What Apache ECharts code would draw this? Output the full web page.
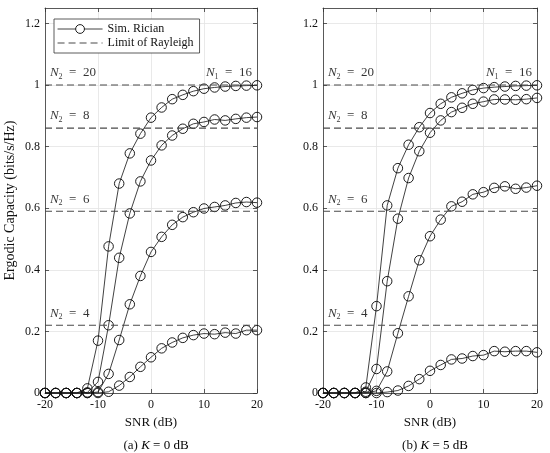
<!DOCTYPE html>
<html>
<head>
<meta charset="utf-8">
<script src="https://cdn.jsdelivr.net/npm/echarts@6/dist/echarts.min.js"></script>
<style>
html,body{margin:0;padding:0;background:#fff;}
#main{width:550px;height:453px;}
</style>
</head>
<body>
<div id="main"></div>
<script>
var serif = '"Liberation Serif", "DejaVu Serif", serif';

// SNR (dB) sample points
var snr = [-20,-18,-16,-14,-12,-10,-8,-6,-4,-2,0,2,4,6,8,10,12,14,16,18,20];

// (a) K = 0 dB
var k0_n20 = [0,0,0,0,0.015,0.17,0.476,0.68,0.778,0.842,0.894,0.927,0.954,0.968,0.98,0.988,0.992,0.995,0.997,0.998,0.999];
var k0_n8  = [0,0,0,0,0.002,0.036,0.22,0.439,0.583,0.687,0.755,0.804,0.836,0.858,0.874,0.88,0.888,0.885,0.89,0.894,0.896];
var k0_n6  = [0,0,0,0,0,0.003,0.062,0.172,0.288,0.38,0.458,0.507,0.546,0.571,0.587,0.599,0.604,0.609,0.617,0.62,0.618];
var k0_n4  = [0,0,0,0,0,0,0.004,0.024,0.052,0.085,0.116,0.145,0.164,0.179,0.188,0.193,0.191,0.196,0.193,0.204,0.204];

// (b) K = 5 dB
var k5_n20 = [0,0,0,0,0.018,0.282,0.609,0.73,0.806,0.863,0.909,0.939,0.96,0.973,0.984,0.99,0.993,0.995,0.997,0.998,0.999];
var k5_n8  = [0,0,0,0,0.004,0.078,0.363,0.566,0.698,0.785,0.845,0.885,0.912,0.926,0.939,0.946,0.953,0.953,0.952,0.954,0.958];
var k5_n6  = [0,0,0,0,0,0.007,0.07,0.194,0.314,0.431,0.509,0.563,0.606,0.621,0.645,0.652,0.666,0.671,0.663,0.667,0.673];
var k5_n4  = [0,0,0,0,0,0,0.003,0.008,0.023,0.045,0.072,0.091,0.109,0.112,0.12,0.123,0.136,0.134,0.136,0.136,0.132];

// Rayleigh limits and their N2 labels
var limits = [1, 0.86, 0.59, 0.22];
var n2 = [20, 8, 6, 4];
var n1 = 16;

var xTicks = [-20, -10, 0, 10, 20];

var myChart = echarts.init(document.getElementById('main'));

var rich = {
	i: {fontFamily: serif, fontStyle: 'italic', fontSize: 13, color: '#000', lineHeight: 15},
	s: {fontFamily: serif, fontSize: 8, color: '#000', verticalAlign: 'bottom', lineHeight: 9},
	r: {fontFamily: serif, fontSize: 13, color: '#000', lineHeight: 15}
};

function grid(left, width) {
	return {left: left, top: 8, width: width, height: 385, containLabel: false};
}

function xAxes(g) {
	return [{
		gridIndex: g, type: 'value', min: xTicks[0], max: xTicks[xTicks.length - 1], interval: 10,
		name: 'SNR (dB)', nameLocation: 'middle', nameGap: 23,
		nameTextStyle: {fontFamily: serif, fontSize: 13, color: '#111'},
		axisLine: {show: true, onZero: false, lineStyle: {color: '#333', width: 0.8}},
		axisTick: {show: true, inside: true, length: 4, lineStyle: {color: '#333', width: 0.8}},
		axisLabel: {fontFamily: serif, fontSize: 12, color: '#111', margin: 6,
			formatter: function (v) { return v < 0 ? '-' + Math.abs(v) : '' + v; }},
		splitLine: {show: true, lineStyle: {color: '#e3e3e3', width: 0.8}}
	}, {
		gridIndex: g, type: 'value', position: 'top', min: xTicks[0], max: xTicks[xTicks.length - 1], interval: 10,
		axisLine: {show: true, onZero: false, lineStyle: {color: '#333', width: 0.8}},
		axisTick: {show: true, inside: true, length: 4, lineStyle: {color: '#333', width: 0.8}},
		axisLabel: {show: false},
		splitLine: {show: false}
	}];
}

function yAxes(g, name) {
	return [{
		gridIndex: g, type: 'value', min: 0, max: 1.25, interval: 0.2,
		name: name, nameLocation: 'middle', nameGap: 28,
		nameTextStyle: {fontFamily: serif, fontSize: 14, color: '#111'},
		axisLine: {show: true, onZero: false, lineStyle: {color: '#333', width: 0.8}},
		axisTick: {show: true, inside: true, length: 4, lineStyle: {color: '#333', width: 0.8}},
		axisLabel: {fontFamily: serif, fontSize: 12, color: '#111', margin: 5, showMaxLabel: false},
		splitLine: {show: true, lineStyle: {color: '#e3e3e3', width: 0.8}}
	}, {
		gridIndex: g, type: 'value', position: 'right', min: 0, max: 1.25, interval: 0.2,
		axisLine: {show: true, onZero: false, lineStyle: {color: '#333', width: 0.8}},
		axisTick: {show: true, inside: true, length: 4, lineStyle: {color: '#333', width: 0.8}},
		axisLabel: {show: false},
		splitLine: {show: false}
	}];
}

function simSeries(vals, g) {
	return {
		name: 'Sim. Rician', type: 'line', xAxisIndex: g * 2, yAxisIndex: g * 2,
		data: snr.map(function (x, i) { return [x, vals[i]]; }),
		symbol: 'circle', symbolSize: 9.5, showSymbol: true,
		lineStyle: {color: '#111', width: 0.8},
		itemStyle: {color: 'rgba(255,255,255,0)', borderColor: '#111', borderWidth: 0.95},
		emphasis: {disabled: true},
		z: 3
	};
}

function limitSeries(l, g) {
	return {
		name: 'Limit of Rayleigh', type: 'line', xAxisIndex: g * 2, yAxisIndex: g * 2,
		data: [[xTicks[0], l], [xTicks[xTicks.length - 1], l]],
		symbol: 'none',
		lineStyle: {color: '#4a4a4a', width: 1.1, type: [7, 4]},
		itemStyle: {color: '#4a4a4a'},
		z: 4
	};
}

function labelSeries(g) {
	var data = limits.map(function (l, i) {
		return {
			value: [xTicks[0], l],
			label: {show: true, position: [5, -12], align: 'left', verticalAlign: 'middle',
				formatter: '{i|N}{s|2}{r|  =  ' + n2[i] + '}', rich: rich}
		};
	});
	data.push({
		value: [xTicks[xTicks.length - 1], limits[0]],
		label: {show: true, position: [-5, -12], align: 'right', verticalAlign: 'middle',
			formatter: '{i|N}{s|1}{r|  =  ' + n1 + '}', rich: rich}
	});
	return {
		name: 'labels', type: 'scatter', xAxisIndex: g * 2, yAxisIndex: g * 2,
		data: data, symbolSize: 0.1, itemStyle: {color: 'transparent'},
		silent: true, z: 5
	};
}

var series = [];
[k0_n20, k0_n8, k0_n6, k0_n4].forEach(function (v) { series.push(simSeries(v, 0)); });
[k5_n20, k5_n8, k5_n6, k5_n4].forEach(function (v) { series.push(simSeries(v, 1)); });
limits.forEach(function (l) { series.push(limitSeries(l, 0)); series.push(limitSeries(l, 1)); });
series.push(labelSeries(0));
series.push(labelSeries(1));

option = {
	backgroundColor: '#fff',
	animation: false,
	textStyle: {fontFamily: serif},
	title: [{
		text: '(a) {i|K}{r| = 0 dB}', left: 151, top: 433, textAlign: 'center',
		textStyle: {fontFamily: serif, fontSize: 13, fontWeight: 'normal', color: '#111', rich: rich}
	}, {
		text: '(b) {i|K}{r| = 5 dB}', left: 430, top: 433, textAlign: 'center',
		textStyle: {fontFamily: serif, fontSize: 13, fontWeight: 'normal', color: '#111', rich: rich}
	}],
	legend: {
		data: [{
			name: 'Sim. Rician',
			itemStyle: {color: '#fff', borderColor: '#111', borderWidth: 0.95},
			lineStyle: {color: '#111', width: 0.8}
		}, {
			name: 'Limit of Rayleigh',
			itemStyle: {color: 'transparent', borderWidth: 0, opacity: 0},
			lineStyle: {color: '#4a4a4a', width: 1.1, type: [7, 4]}
		}],
		orient: 'vertical', left: 54, top: 19,
		itemWidth: 45, itemHeight: 11, itemGap: 2,
		padding: [4, 6, 4, 3],
		borderColor: '#333', borderWidth: 0.8, backgroundColor: '#fff',
		textStyle: {fontFamily: serif, fontSize: 12, color: '#111'},
		z: 10
	},
	grid: [grid(45, 212), grid(323, 214)],
	xAxis: xAxes(0).concat(xAxes(1)),
	yAxis: yAxes(0, 'Ergodic Capacity (bits/s/Hz)').concat(yAxes(1, '')),
	series: series
};
myChart.setOption(option);
</script>
</body>
</html>
